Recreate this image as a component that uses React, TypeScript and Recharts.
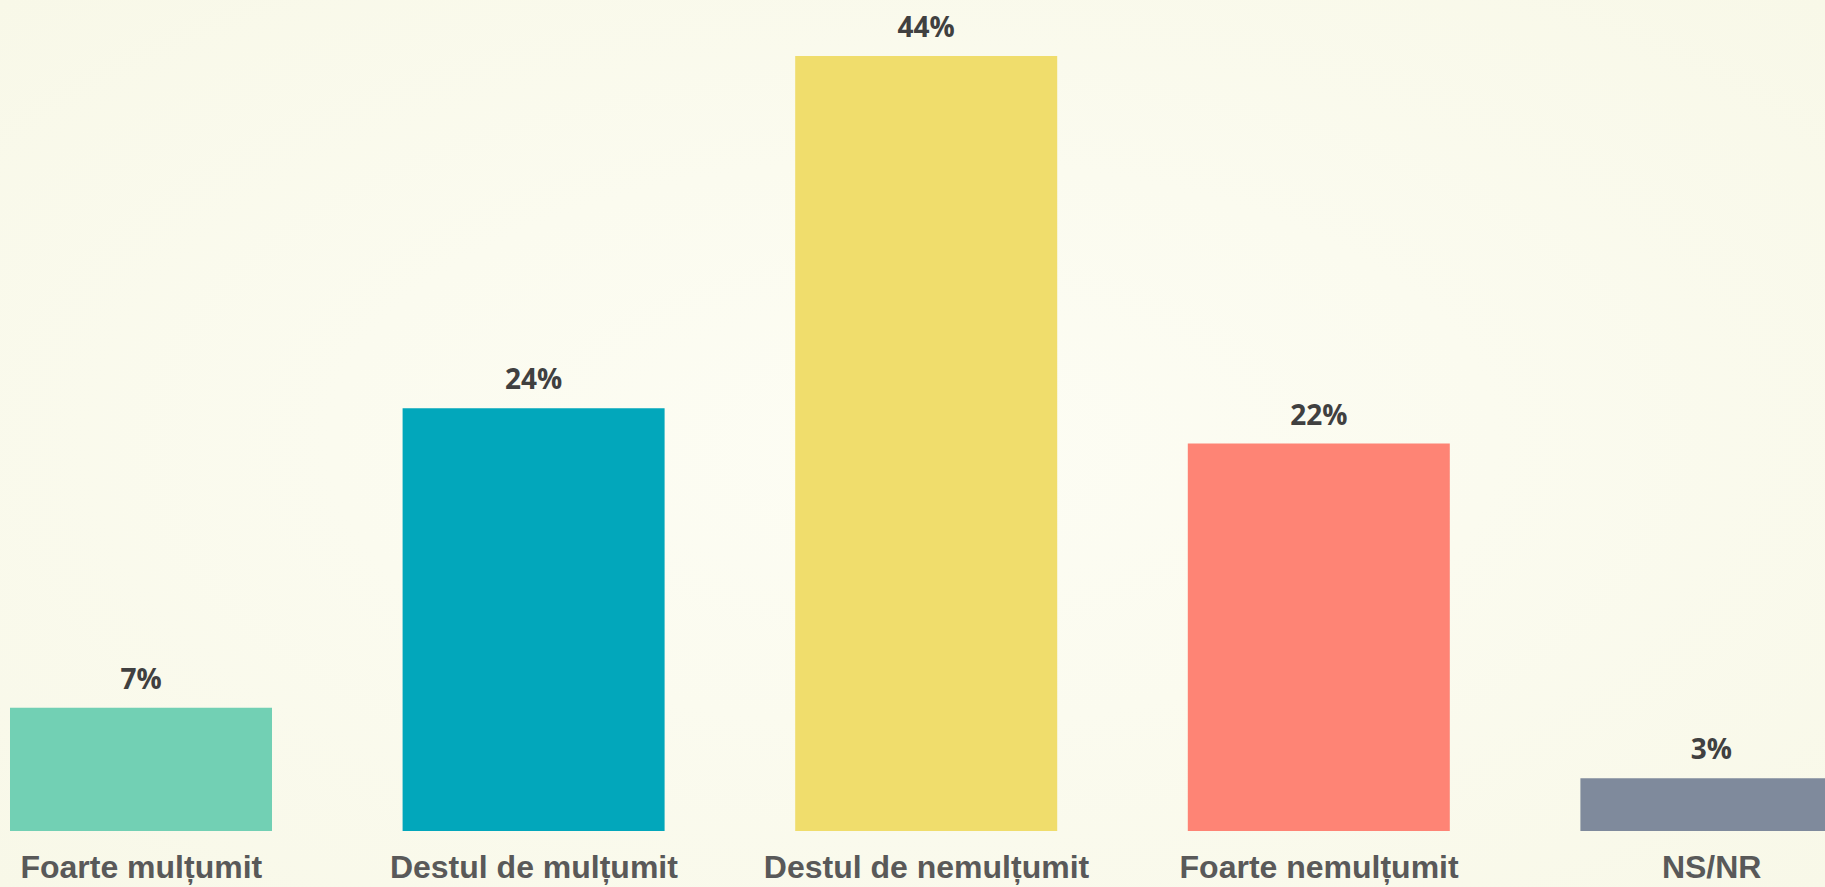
import { Bar, BarChart, Cell, LabelList, XAxis, YAxis } from "recharts"

const categories = [
    "Foarte mulțumit",
    "Destul de mulțumit",
    "Destul de nemulțumit",
    "Foarte nemulțumit",
    "NS/NR",
]
const values = [7, 24, 44, 22, 3]
const colors = ["#72d0b4", "#02a7bb", "#f0dd6c", "#fe8475", "#7f8a9c"]

const data = categories.map((name, i) => ({ name, value: values[i] }))

const CategoryTick = (props: any) => {
    const { x, y, payload } = props
    return (
        <text
            x={x}
            y={y + 47}
            textAnchor="middle"
            fill="#595959"
            fontSize={32}
            fontWeight="bold"
            fontFamily="'Liberation Sans', Arial, sans-serif"
        >
            {payload.value}
        </text>
    )
}

export default function App() {
    return (
        <div
            style={{
                position: "absolute",
                left: 0,
                top: 0,
                width: 1825,
                height: 887,
                overflow: "hidden",
                background:
                    "radial-gradient(ellipse at 50% 50%, #fdfdf4 0%, #fbfbef 45%, #f8f8e8 100%)",
            }}
        >
            <div style={{ marginLeft: -55 }}>
                <BarChart
                    width={1963}
                    height={887}
                    data={data}
                    margin={{ top: 56, right: 0, left: 0, bottom: 0 }}
                >
                    <XAxis
                        dataKey="name"
                        height={56}
                        axisLine={false}
                        tickLine={false}
                        tickSize={0}
                        tickMargin={0}
                        interval={0}
                        tick={<CategoryTick />}
                    />
                    <YAxis hide domain={[0, 44]} />
                    <Bar dataKey="value" barSize={262} isAnimationActive={false}>
                        {data.map((d, i) => (
                            <Cell key={d.name} fill={colors[i]} />
                        ))}
                        <LabelList
                            dataKey="value"
                            position="top"
                            offset={19}
                            formatter={(v: any) => `${v}%`}
                            fill="#404040"
                            fontSize={28}
                            fontWeight="bold"
                            fontFamily="'Open Sans', sans-serif"
                        />
                    </Bar>
                </BarChart>
            </div>
        </div>
    )
}
